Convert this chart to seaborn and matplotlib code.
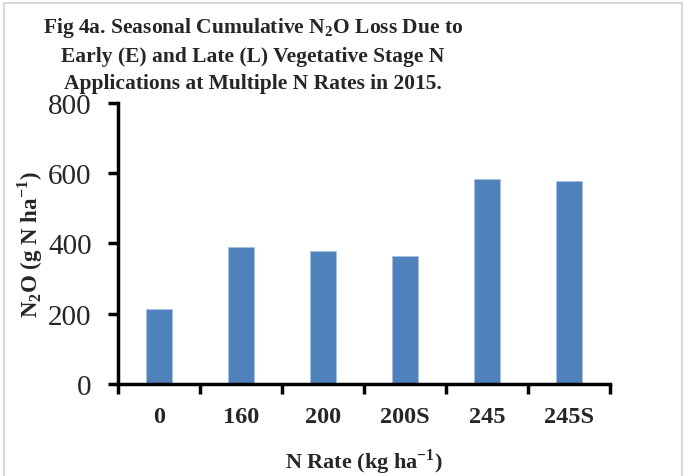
import matplotlib
matplotlib.use("Agg")
import matplotlib.pyplot as plt
from matplotlib.lines import Line2D
import seaborn as sns
import pandas as pd

# Values
rates = ["0", "160", "200", "200S", "245", "245S"]
n2o_loss = [213, 389, 378, 365, 584, 578]
y_ticks = [0, 200, 400, 600, 800]

sns.set_style("white")
plt.rcParams["font.family"] = ["Liberation Serif", "DejaVu Serif"]
plt.rcParams["mathtext.fontset"] = "custom"
plt.rcParams["mathtext.rm"] = "Liberation Serif"
plt.rcParams["mathtext.bf"] = "Liberation Serif:bold"

df = pd.DataFrame({"rate": rates, "n2o": n2o_loss})

fig = plt.figure(figsize=(6.84, 4.77), dpi=100)
ax = fig.add_axes([0.1725, 0.193, 0.7195, 0.589])

sns.barplot(data=df, x="rate", y="n2o", color="#4F81BD", width=0.32,
            saturation=1, edgecolor="#A9C0E0", linewidth=0.6, ax=ax)

ax.set_ylim(0, 800)
ax.set_yticks(y_ticks)
ax.set_xlim(-0.5, len(rates) - 0.5)

# boundary ticks (major) and centred labels (minor)
ax.set_xticks([i - 0.5 for i in range(len(rates) + 1)])
ax.set_xticklabels([])
ax.set_xticks(range(len(rates)), minor=True)
ax.set_xticklabels(rates, minor=True, fontsize=17.5, fontweight="bold")
ax.tick_params(axis="x", which="major", bottom=True, direction="out", length=7,
               width=2.5, color="black")
ax.tick_params(axis="x", which="minor", bottom=True, length=0, pad=16)
ax.tick_params(axis="y", left=True, direction="out", length=7, width=2.5,
               color="black", labelsize=21, pad=12)

for side in ["top", "right"]:
    ax.spines[side].set_visible(False)
for side in ["left", "bottom"]:
    ax.spines[side].set_linewidth(2.5)
    ax.spines[side].set_color("black")

ax.set_xlabel(r"N Rate (kg ha$^{\mathbf{-1}}$)", fontsize=16, fontweight="bold", labelpad=14)
ax.set_ylabel(r"N$_\mathbf{2}$O (g N ha$^{\mathbf{-1}}$)", fontsize=16.5, fontweight="bold", labelpad=2)

fig.text(0.37, 0.966,
         "Fig 4a. Seasonal Cumulative N$_\\mathbf{2}$O Loss Due to\n"
         "Early (E) and Late (L) Vegetative Stage N\n"
         "Applications at Multiple N Rates in 2015.",
         ha="center", va="top", fontsize=15.5, fontweight="bold", linespacing=1.45)

# faint frame around the chart area
frame = "#D9D9D9"
fig.add_artist(Line2D([0.006, 0.006], [0, 0.992], color=frame, lw=1.5, transform=fig.transFigure))
fig.add_artist(Line2D([0.006, 0.997], [0.992, 0.992], color=frame, lw=1.5, transform=fig.transFigure))
fig.add_artist(Line2D([0.997, 0.997], [0, 0.992], color=frame, lw=1.5, transform=fig.transFigure))

fig.savefig("out.png", dpi=100)
